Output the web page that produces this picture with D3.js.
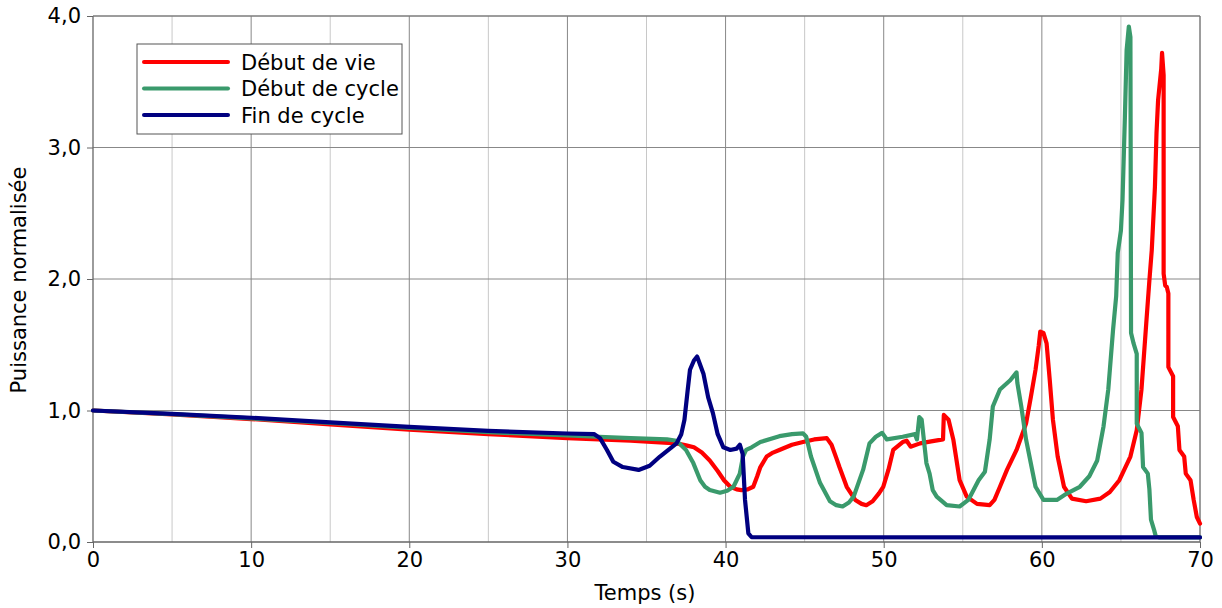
<!DOCTYPE html>
<html>
<head>
<meta charset="utf-8">
<script src="https://cdn.jsdelivr.net/npm/d3@7"></script>
<style>
  html, body { margin: 0; padding: 0; background: #fff; }
  svg { display: block; font-family: "DejaVu Sans", sans-serif; }
</style>
</head>
<body>
<svg id="chart" width="1222" height="608"></svg>
<script>
// series: [time (s), normalised power]
const debutVie = [
  [0, 1.0], [5, 0.97], [10, 0.935], [15, 0.895], [20, 0.855], [25, 0.82], [30, 0.79], [34, 0.77],
  [36.9, 0.75], [37.5, 0.735], [38.0, 0.72], [38.5, 0.68], [39.0, 0.62], [39.5, 0.54], [39.9, 0.47],
  [40.3, 0.42], [40.7, 0.40], [41.0, 0.395], [41.4, 0.40], [41.75, 0.42], [42.0, 0.50], [42.2, 0.57],
  [42.6, 0.65], [43.0, 0.68], [43.4, 0.70], [44.2, 0.74], [44.9, 0.76], [45.6, 0.78], [46.4, 0.79],
  [46.7, 0.74], [47.0, 0.64], [47.2, 0.57], [47.66, 0.42], [48.2, 0.32], [48.6, 0.29], [48.9, 0.28],
  [49.3, 0.31], [49.7, 0.37], [49.97, 0.42], [50.3, 0.55], [50.6, 0.70], [51.2, 0.76], [51.45, 0.77],
  [51.7, 0.725], [52.3, 0.75], [53.0, 0.765], [53.75, 0.78], [53.8, 0.966], [54.1, 0.93], [54.4, 0.78],
  [54.8, 0.47], [55.25, 0.345], [55.9, 0.29], [56.7, 0.28], [57.0, 0.32], [57.35, 0.42], [57.8, 0.55],
  [58.4, 0.70], [59.0, 0.90], [59.3, 1.10], [59.6, 1.31], [59.8, 1.49], [59.9, 1.60], [60.1, 1.59],
  [60.3, 1.51], [60.5, 1.23], [60.7, 0.93], [61.0, 0.65], [61.4, 0.42], [61.9, 0.33], [62.8, 0.31],
  [63.7, 0.33], [64.3, 0.38], [64.9, 0.47], [65.6, 0.65], [66.0, 0.85], [66.3, 1.16], [66.6, 1.66],
  [66.8, 1.99], [66.95, 2.22], [67.15, 2.70], [67.25, 3.11], [67.35, 3.36], [67.55, 3.60], [67.6, 3.72],
  [67.7, 3.55], [67.7, 2.04], [67.8, 1.95], [67.9, 1.94], [68.0, 1.89], [68.0, 1.33], [68.3, 1.26],
  [68.3, 0.95], [68.6, 0.88], [68.7, 0.70], [69.0, 0.65], [69.1, 0.52], [69.4, 0.47], [69.6, 0.32],
  [69.8, 0.19], [70, 0.14]
];
const debutCycle = [
  [0, 1.0], [5, 0.972], [10, 0.94], [15, 0.905], [20, 0.868], [25, 0.835], [30, 0.81], [34, 0.79],
  [36.3, 0.78], [36.9, 0.77], [37.5, 0.70], [37.96, 0.60], [38.4, 0.47], [38.7, 0.42], [39.0, 0.395],
  [39.65, 0.375], [40.1, 0.39], [40.5, 0.42], [40.9, 0.52], [41.1, 0.65], [41.3, 0.70], [41.65, 0.72],
  [42.2, 0.76], [43.4, 0.805], [44.2, 0.82], [44.9, 0.826], [45.1, 0.80], [45.4, 0.65], [45.97, 0.45],
  [46.6, 0.31], [47.0, 0.28], [47.4, 0.27], [47.8, 0.30], [48.1, 0.345], [48.7, 0.55], [49.1, 0.75],
  [49.5, 0.80], [49.9, 0.83], [50.2, 0.78], [51.2, 0.80], [51.98, 0.82], [52.1, 0.78], [52.25, 0.95],
  [52.4, 0.93], [52.7, 0.60], [52.9, 0.52], [53.1, 0.395], [53.35, 0.345], [53.98, 0.28], [54.8, 0.27],
  [55.35, 0.32], [56.0, 0.47], [56.4, 0.535], [56.7, 0.78], [56.9, 1.03], [57.35, 1.16], [58.0, 1.23],
  [58.4, 1.29], [58.45, 1.21], [58.7, 1.03], [59.0, 0.78], [59.6, 0.42], [60.1, 0.32], [60.95, 0.32],
  [61.6, 0.37], [62.4, 0.42], [63.0, 0.50], [63.5, 0.62], [63.9, 0.88], [64.2, 1.16], [64.5, 1.61],
  [64.7, 1.87], [64.8, 2.20], [65.0, 2.37], [65.1, 2.60], [65.25, 3.23], [65.36, 3.74], [65.5, 3.92],
  [65.6, 3.84], [65.64, 1.59], [65.8, 1.51], [66.0, 1.43], [66.0, 0.90], [66.3, 0.83], [66.4, 0.57],
  [66.7, 0.52], [66.8, 0.40], [66.9, 0.17], [67.1, 0.09], [67.2, 0.045], [67.4, 0.035], [70, 0.035]
];
const finCycle = [
  [0, 1.0], [5, 0.975], [10, 0.945], [15, 0.91], [20, 0.875], [25, 0.845], [30, 0.825], [31.7, 0.82],
  [32.06, 0.79], [32.5, 0.70], [32.9, 0.61], [33.5, 0.57], [34.5, 0.548], [35.2, 0.58], [35.85, 0.65],
  [36.9, 0.75], [37.2, 0.82], [37.4, 0.93], [37.6, 1.15], [37.75, 1.31], [38.0, 1.38], [38.2, 1.41],
  [38.6, 1.28], [38.9, 1.10], [39.2, 0.98], [39.5, 0.82], [39.86, 0.72], [40.3, 0.70], [40.7, 0.71],
  [40.9, 0.74], [41.08, 0.67], [41.23, 0.32], [41.44, 0.066], [41.65, 0.036], [70, 0.035]
];
const xTicks = [0, 10, 20, 30, 40, 50, 60, 70];
const xMinor = [5, 15, 25, 35, 45, 55, 65];
const yTicks = [0, 1, 2, 3, 4];
const seriesNames = ['Début de vie', 'Début de cycle', 'Fin de cycle'];
const seriesColors = ['#ff0000', '#3a9a6c', '#000080'];

const FS = 21;
const svg = d3.select('#chart');
const M = { l: 93, r: 1200, t: 16, b: 542 };
const x = d3.scaleLinear().domain([0, 70]).range([M.l, M.r]);
const y = d3.scaleLinear().domain([0, 4]).range([M.b, M.t]);

// grid
const grid = svg.append('g');
grid.selectAll('.vmin').data(xMinor).join('line')
  .attr('x1', d => x(d)).attr('x2', d => x(d)).attr('y1', M.t).attr('y2', M.b)
  .attr('stroke', '#c8c8c8').attr('stroke-width', 1);
grid.selectAll('.vmaj').data(xTicks.slice(1)).join('line')
  .attr('x1', d => x(d)).attr('x2', d => x(d)).attr('y1', M.t).attr('y2', M.b)
  .attr('stroke', '#888').attr('stroke-width', 1);
grid.selectAll('.h').data(yTicks.slice(1)).join('line')
  .attr('x1', M.l).attr('x2', M.r).attr('y1', d => y(d)).attr('y2', d => y(d))
  .attr('stroke', '#888').attr('stroke-width', 1);

// axes
const fmt = d => d3.format('.1f')(d).replace('.', ',');
const yAxis = svg.append('g').attr('transform', `translate(${M.l},0)`)
  .call(d3.axisLeft(y).tickValues(yTicks).tickFormat(fmt).tickSize(6).tickPadding(6));
const xAxis = svg.append('g').attr('transform', `translate(0,${M.b})`)
  .call(d3.axisBottom(x).tickValues(xTicks).tickSize(6).tickPadding(4));
[yAxis, xAxis].forEach(a => {
  a.select('.domain').attr('stroke', '#666').attr('stroke-width', 1.3);
  a.selectAll('.tick line').attr('stroke', '#666');
  a.selectAll('text').attr('font-size', FS).attr('fill', '#000').attr('font-family', '"DejaVu Sans", sans-serif');
});
xAxis.select('.domain').attr('d', `M${M.l},0H${M.r}`);
yAxis.select('.domain').attr('d', `M0,${M.b}V${M.t}`);

// top and right frame lines
svg.append('line').attr('x1', M.l).attr('x2', M.r).attr('y1', M.t).attr('y2', M.t).attr('stroke', '#777');
svg.append('line').attr('x1', M.r).attr('x2', M.r).attr('y1', M.t).attr('y2', M.b).attr('stroke', '#777');

// lines
const line = d3.line().x(d => x(d[0])).y(d => y(d[1]));
[debutVie, debutCycle, finCycle].forEach((s, i) => {
  svg.append('path').datum(s).attr('d', line)
    .attr('fill', 'none').attr('stroke', seriesColors[i]).attr('stroke-width', 4.2)
    .attr('stroke-linejoin', 'round').attr('stroke-linecap', 'round');
});

// axis titles
svg.append('text').attr('x', 645).attr('y', 600).attr('text-anchor', 'middle')
  .attr('font-size', FS).text('Temps (s)');
svg.append('text').attr('transform', 'translate(26,280) rotate(-90)').attr('text-anchor', 'middle')
  .attr('font-size', FS).text('Puissance normalisée');

// legend
const lg = svg.append('g').attr('transform', 'translate(137,44)');
lg.append('rect').attr('width', 265).attr('height', 90).attr('fill', '#fff').attr('stroke', '#555');
seriesNames.forEach((n, i) => {
  const yy = 18 + i * 26.5;
  lg.append('line').attr('x1', 7).attr('x2', 91).attr('y1', yy).attr('y2', yy)
    .attr('stroke', seriesColors[i]).attr('stroke-width', 4).attr('stroke-linecap', 'round');
  lg.append('text').attr('x', 104).attr('y', yy + 7.5).attr('font-size', FS).text(n);
});
</script>
</body>
</html>
